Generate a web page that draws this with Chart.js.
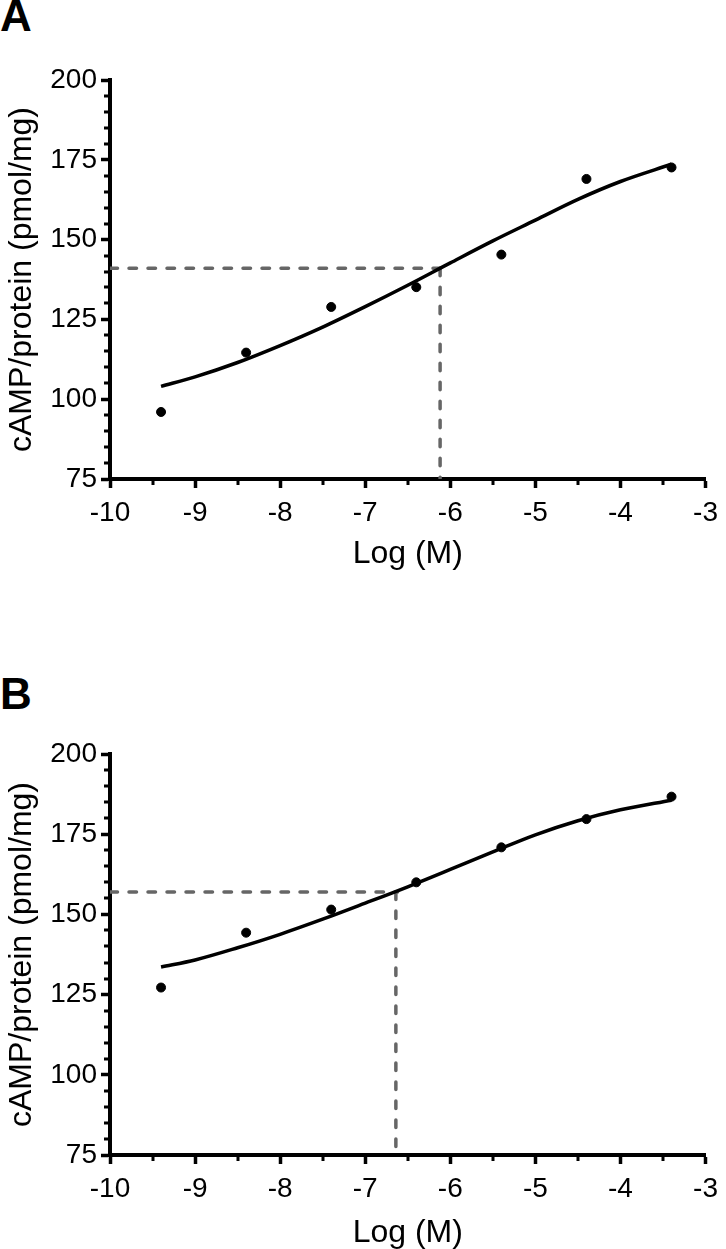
<!DOCTYPE html>
<html>
<head>
<meta charset="utf-8">
<script src="https://cdn.jsdelivr.net/npm/chart.js@4/dist/chart.umd.min.js"></script>
<style>
  body { margin: 0; background: #fff; width: 726px; height: 1249px; position: relative; overflow: hidden; }
  .panel { position: absolute; left: 0; }
  .tag { position: absolute; left: 0; font: bold 44px "Liberation Sans", Arial, sans-serif; line-height: 1; color: #000; }
</style>
</head>
<body>
<div class="tag" style="top:-6px">A</div>
<div class="tag" style="top:672px">B</div>
<div class="panel" style="top:0"><canvas id="chartA" width="726" height="600"></canvas></div>
<div class="panel" style="top:620px"><canvas id="chartB" width="726" height="629"></canvas></div>
<script>
// dose (log M) and measured cAMP
const doses = [-9.4, -8.4, -7.4, -6.4, -5.4, -4.4, -3.4];
const respA = [96.0, 114.6, 128.9, 135.1, 145.3, 169.0, 172.6];
const respB = [127.2, 144.3, 151.5, 160.0, 170.9, 179.7, 186.7];

// fitted curve
const fitX = [-9.4, -9, -8.5, -8, -7.5, -7, -6.5, -6, -5.5, -5, -4.5, -4, -3.4];
const fitA = [104.0, 107.0, 111.5, 116.8, 122.6, 129.0, 135.7, 142.7, 149.6, 156.1, 162.6, 168.2, 173.6];
const fitB = [133.6, 135.8, 139.6, 143.8, 148.5, 153.5, 158.6, 164.0, 169.5, 174.8, 179.2, 182.6, 185.6];

// EC50 guide lines
const ec50A = -6.12, halfA = 141, hEndA = -6.0;
const ec50B = -6.64, halfB = 157, hEndB = -6.62;

const yMin = 75, yMax = 200, xMin = -10, xMax = -3;
const font = '"Liberation Sans", Arial, sans-serif';

const minorTicks = {
  id: 'minorTicks',
  afterDraw(chart) {
    const c = chart.ctx, x = chart.scales.x, y = chart.scales.y;
    const a = chart.chartArea;
    c.save();
    c.strokeStyle = '#000';
    c.lineWidth = 3;
    c.beginPath();
    for (let v = yMin + 5; v < yMax; v += 5) {
      if (v % 25 === 0) continue;
      const p = Math.round(y.getPixelForValue(v));
      c.moveTo(a.left - 6, p);
      c.lineTo(a.left, p);
    }
    for (let v = xMin + 0.5; v < xMax; v += 1) {
      const p = Math.round(x.getPixelForValue(v));
      c.moveTo(p, a.bottom);
      c.lineTo(p, a.bottom + 6);
    }
    c.stroke();
    c.restore();
  }
};

function toPts(xs, ys) {
  return xs.map((v, i) => ({ x: v, y: ys[i] }));
}

function makeChart(id, resp, fit, ec50, half, hEnd, topPad, canvasH, plotBottom, titlePadB) {
  const ctx = document.getElementById(id).getContext('2d');
  return new Chart(ctx, {
    type: 'scatter',
    data: {
      datasets: [
        {
          data: [{ x: xMin, y: half }, { x: hEnd, y: half }],
          showLine: true, borderColor: '#666', borderWidth: 3.5,
          borderDash: [7.5, 11.5], borderCapStyle: 'round', pointRadius: 0, order: 3
        },
        {
          data: [{ x: ec50, y: half }, { x: ec50, y: yMin }],
          showLine: true, borderColor: '#666', borderWidth: 3.5,
          borderDash: [7.5, 11.5], borderCapStyle: 'round', pointRadius: 0, order: 3
        },
        {
          data: toPts(fitX, fit),
          showLine: true, borderColor: '#000', borderWidth: 3.5,
          cubicInterpolationMode: 'monotone', pointRadius: 0, order: 2
        },
        {
          data: toPts(doses, resp),
          backgroundColor: '#000', borderColor: '#000',
          pointRadius: 4.5, order: 1
        }
      ]
    },
    options: {
      responsive: false,
      animation: false,
      devicePixelRatio: 1,
      layout: { padding: { top: topPad, left: 0, right: 14, bottom: 0 } },
      plugins: { legend: { display: false }, tooltip: { enabled: false } },
      scales: {
        x: {
          type: 'linear', min: xMin, max: xMax,
          afterFit: s => { s.height = canvasH - plotBottom; },
          border: { color: '#000', width: 4 },
          grid: { drawOnChartArea: false, drawTicks: true, tickLength: 9, tickWidth: 3.5, tickColor: '#000' },
          ticks: { stepSize: 1, color: '#000', padding: 8, font: { family: font, size: 28 } },
          title: {
            display: true, text: 'Log (M)', color: '#000',
            font: { family: font, size: 32, lineHeight: 1 },
            padding: { top: 0, bottom: titlePadB }
          }
        },
        y: {
          type: 'linear', min: yMin, max: yMax,
          afterFit: s => { s.width = 110; },
          border: { color: '#000', width: 4 },
          grid: { drawOnChartArea: false, drawTicks: true, tickLength: 9, tickWidth: 3.5, tickColor: '#000' },
          ticks: { stepSize: 25, color: '#000', padding: 4, font: { family: font, size: 28 } },
          title: {
            display: true, text: 'cAMP/protein (pmol/mg)', color: '#000',
            font: { family: font, size: 32, lineHeight: 1 },
            padding: { top: 6, bottom: 0 }
          }
        }
      }
    },
    plugins: [minorTicks]
  });
}

makeChart('chartA', respA, fitA, ec50A, halfA, hEndA, 80, 600, 479, 30);
makeChart('chartB', respB, fitB, ec50B, halfB, hEndB, 134, 629, 535, 0);
</script>
</body>
</html>
